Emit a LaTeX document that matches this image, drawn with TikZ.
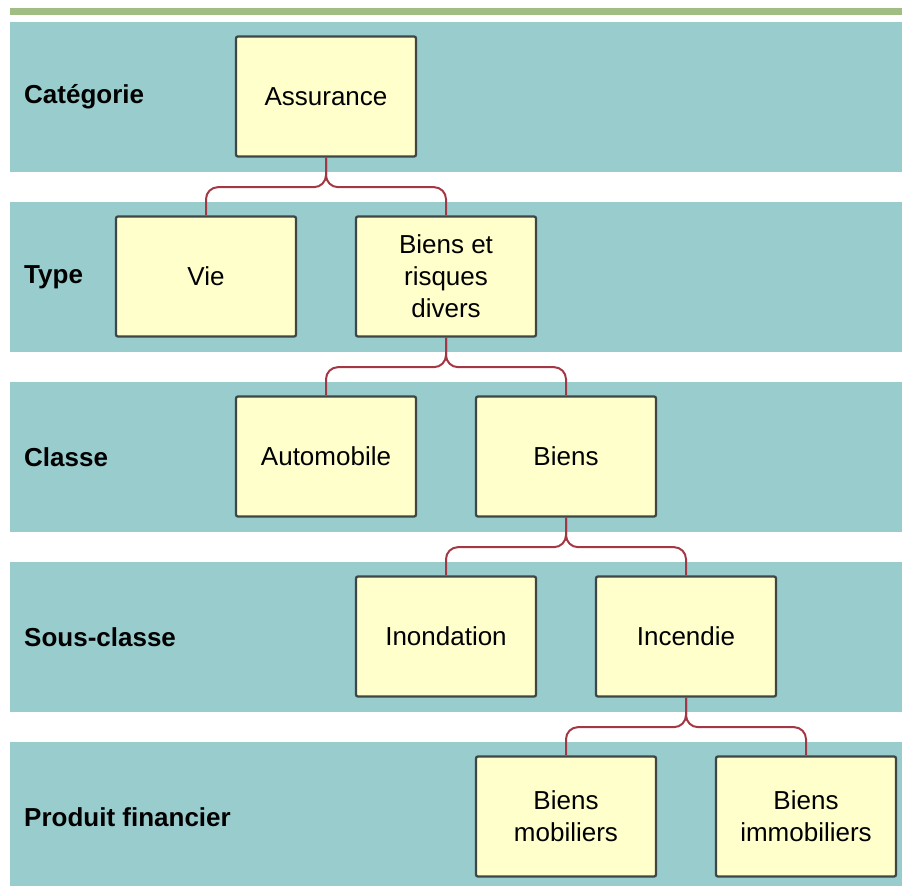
\documentclass[tikz,border=0pt]{standalone}
\usepackage{fontspec}
\setmainfont{Liberation Sans}
\usetikzlibrary{positioning}
\definecolor{bandTeal}{RGB}{153,205,205}
\definecolor{barGreen}{RGB}{160,189,132}
\definecolor{boxYellow}{RGB}{255,255,204}
\definecolor{boxEdge}{RGB}{62,70,70}
\definecolor{linkRed}{RGB}{163,56,68}

\begin{document}
\begin{tikzpicture}[x=1pt,y=-1pt,
    box/.style={draw=boxEdge, fill=boxYellow, line width=2.3pt, rounded corners=2pt,
      minimum width=180pt, minimum height=120pt, inner sep=0pt, align=center,
      font=\fontsize{26}{32}\selectfont},
    level/.style={anchor=west, inner sep=0pt, font=\fontsize{26}{32}\selectfont\bfseries},
    link/.style={linkRed, line width=2pt, rounded corners=12pt}]
    \useasboundingbox (0,0) rectangle (902,886);

    % bands
    \fill[barGreen] (10,8) rectangle (902,15);
    \foreach \k in {0,...,3}
      \fill[bandTeal] (10,22+180*\k) rectangle (902,172+180*\k);
    \fill[bandTeal] (10,742) rectangle (902,886);

    % level names
    \node[level] (lcat) at (24,97) {Catégorie};
    \node[level] (ltype) at (24,277) {Type};
    \node[level] (lclass) at (24,457) {Classe};
    \node[level] (lsous) at (24,637) {Sous-classe};
    \node[level] (lprod) at (24,817) {Produit financier};

    % boxes
    \node[box] (assur) at (326,96.5) {Assurance};
    \node[box] (vie) at (206,276.5) {Vie};
    \node[box] (divers) at (446,276.5) {Biens et\\risques\\divers};
    \node[box] (auto) at (326,456.5) {Automobile};
    \node[box] (biens) at (566,456.5) {Biens};
    \node[box] (inond) at (446,636.5) {Inondation};
    \node[box] (incend) at (686,636.5) {Incendie};
    \node[box] (mobil) at (566,816.5) {Biens\\mobiliers};
    \node[box] (immob) at (806,816.5) {Biens\\immobiliers};

    % links
    \draw[link] (assur.south) -- ++(0,29.5) -| (vie.north);
    \draw[link] (assur.south) -- ++(0,29.5) -| (divers.north);
    \draw[link] (divers.south) -- ++(0,29.5) -| (auto.north);
    \draw[link] (divers.south) -- ++(0,29.5) -| (biens.north);
    \draw[link] (biens.south) -- ++(0,29.5) -| (inond.north);
    \draw[link] (biens.south) -- ++(0,29.5) -| (incend.north);
    \draw[link] (incend.south) -- ++(0,29.5) -| (mobil.north);
    \draw[link] (incend.south) -- ++(0,29.5) -| (immob.north);
\end{tikzpicture}
\end{document}
